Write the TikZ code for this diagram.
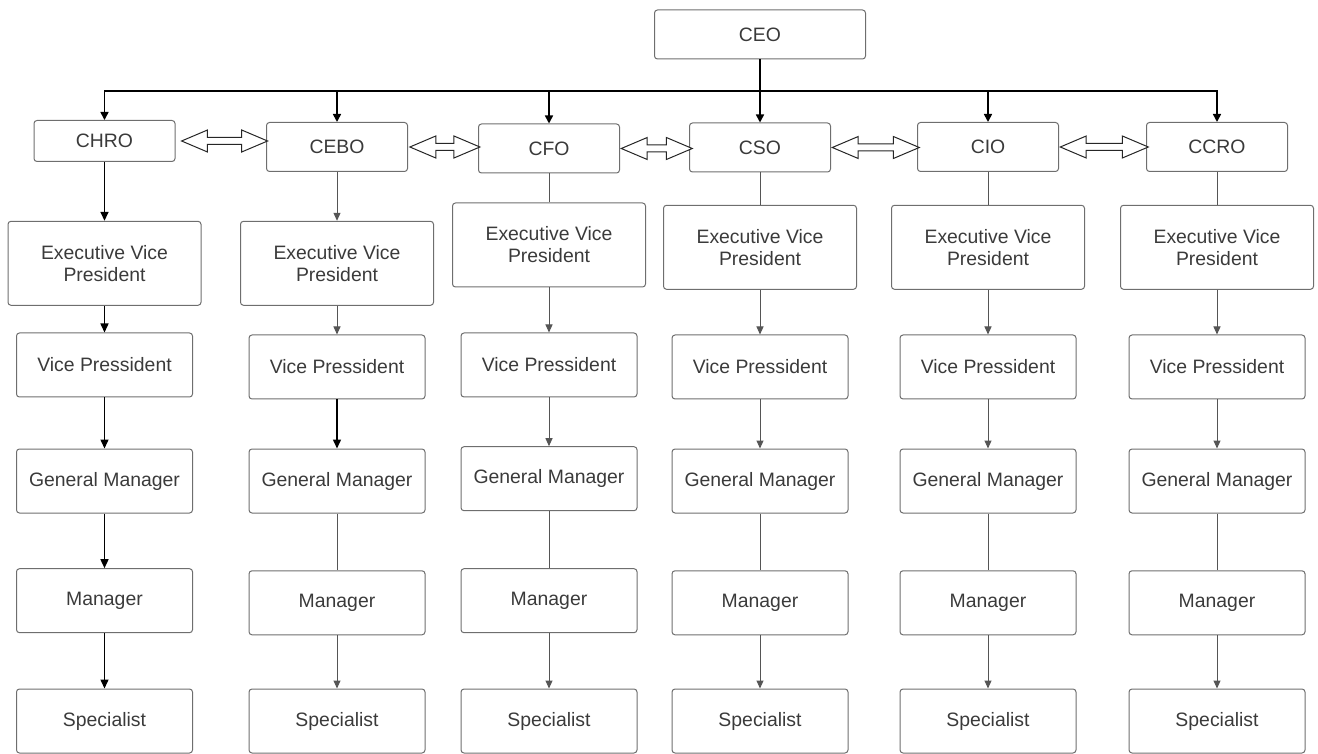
\documentclass[tikz,border=0pt]{standalone}
\usepackage{fontspec}
\setmainfont{Liberation Sans}
\usetikzlibrary{positioning,shapes.arrows,arrows.meta}
\definecolor{boxline}{HTML}{6E6E6E}
\definecolor{boxtext}{HTML}{3A3A3A}
\definecolor{linkgray}{HTML}{555555}
\tikzset{
  orgbox/.style={draw=boxline,line width=0.5pt,rounded corners=1.5pt,text=boxtext,
    font=\fontsize{9.7}{11}\selectfont,align=center,inner sep=0pt},
  chief/.style={orgbox,minimum width=70.5pt,minimum height=24.5pt},
  evpbox/.style={orgbox,minimum width=96.5pt,minimum height=42pt},
  rankbox/.style={orgbox,minimum width=88pt,minimum height=32pt},
  bus/.style={line width=0.8pt,black},
  busarr/.style={bus,-{Triangle[length=4pt,width=4pt]}},
  link/.style={line width=0.5pt,linkgray},
  linkarr/.style={link,-{Triangle[length=4pt,width=3.5pt]}},
  firstarr/.style={line width=0.75pt,black,-{Triangle[length=4.5pt,width=4pt]}},
  peer/.style={double arrow,draw=black!85,line width=0.5pt,fill=white,
    double arrow head extend=3.75pt,double arrow tip angle=46,
    inner xsep=0pt,inner ysep=1.5pt}
}

\begin{document}
\begin{tikzpicture}[x=0.5pt,y=-0.5pt]
\useasboundingbox (0,0) rectangle (1318,754);

\node[chief,minimum width=105.5pt] (CEO) at (760,34.5) {CEO};
\coordinate (bus) at (760,91);

\node[chief,minimum height=20.5pt] (CHRO) at (104.5,141) {CHRO};
\node[chief] (CEBO) at (337,147) {CEBO};
\node[chief] (CFO) at (549,148.5) {CFO};
\node[chief] (CSO) at (760,147.5) {CSO};
\node[chief] (CIO) at (988,147) {CIO};
\node[chief] (CCRO) at (1217,147) {CCRO};

% peer links between the chiefs
\node[peer,minimum height=43pt,right=2.4pt of CHRO] (p1) {};
\node[peer,minimum height=35pt,right=0.3pt of CEBO] (p2) {};
\node[peer,minimum height=35.5pt,right=0pt of CFO] (p3) {};
\node[peer,minimum height=43.5pt,right=0pt of CSO] (p4) {};
\node[peer,minimum height=44pt,right=0pt of CIO] (p5) {};

% CHRO column
\node[evpbox] (hrEVP) at (104.5,263.3) {Executive Vice\\President};
\node[rankbox] (hrVP) at (104.5,365) {Vice Pressident};
\node[rankbox] (hrGM) at (104.5,481) {General Manager};
\node[rankbox] (hrMgr) at (104.5,600.7) {Manager};
\node[rankbox] (hrSpec) at (104.5,721) {Specialist};

% CEBO column
\node[evpbox] (ebEVP) at (337,263.3) {Executive Vice\\President};
\node[rankbox] (ebVP) at (337,367) {Vice Pressident};
\node[rankbox] (ebGM) at (337,481) {General Manager};
\node[rankbox] (ebMgr) at (337,602.8) {Manager};
\node[rankbox] (ebSpec) at (337,721) {Specialist};

% CFO column
\node[evpbox] (foEVP) at (549,245) {Executive Vice\\President};
\node[rankbox] (foVP) at (549,365) {Vice Pressident};
\node[rankbox] (foGM) at (549,478.7) {General Manager};
\node[rankbox] (foMgr) at (549,600.7) {Manager};
\node[rankbox] (foSpec) at (549,721) {Specialist};

% CSO column
\node[evpbox] (soEVP) at (760,247.3) {Executive Vice\\President};
\node[rankbox] (soVP) at (760,367) {Vice Pressident};
\node[rankbox] (soGM) at (760,481) {General Manager};
\node[rankbox] (soMgr) at (760,602.8) {Manager};
\node[rankbox] (soSpec) at (760,721) {Specialist};

% CIO column
\node[evpbox] (ioEVP) at (988,247.3) {Executive Vice\\President};
\node[rankbox] (ioVP) at (988,367) {Vice Pressident};
\node[rankbox] (ioGM) at (988,481) {General Manager};
\node[rankbox] (ioMgr) at (988,602.8) {Manager};
\node[rankbox] (ioSpec) at (988,721) {Specialist};

% CCRO column
\node[evpbox] (crEVP) at (1217,247.3) {Executive Vice\\President};
\node[rankbox] (crVP) at (1217,367) {Vice Pressident};
\node[rankbox] (crGM) at (1217,481) {General Manager};
\node[rankbox] (crMgr) at (1217,602.8) {Manager};
\node[rankbox] (crSpec) at (1217,721) {Specialist};

% CEO to the chiefs
\draw[bus] (CEO) -- (bus);
\draw[busarr] (bus) -| (CHRO);
\draw[busarr] (bus) -| (CEBO);
\draw[busarr] (bus) -| (CFO);
\draw[busarr] (bus) -- (CSO);
\draw[busarr] (bus) -| (CIO);
\draw[busarr] (bus) -| (CCRO);

\draw[firstarr] (CHRO) -- (hrEVP);
\draw[firstarr] (hrEVP) -- (hrVP);
\draw[firstarr] (hrVP) -- (hrGM);
\draw[firstarr] (hrGM) -- (hrMgr);
\draw[firstarr] (hrMgr) -- (hrSpec);

\draw[linkarr] (CEBO) -- (ebEVP);
\draw[linkarr] (ebEVP) -- (ebVP);
\draw[firstarr] (ebVP) -- (ebGM);
\draw[link] (ebGM) -- (ebMgr);
\draw[linkarr] (ebMgr) -- (ebSpec);

\draw[link] (CFO) -- (foEVP);
\draw[linkarr] (foEVP) -- (foVP);
\draw[linkarr] (foVP) -- (foGM);
\draw[link] (foGM) -- (foMgr);
\draw[linkarr] (foMgr) -- (foSpec);

\draw[link] (CSO) -- (soEVP);
\draw[linkarr] (soEVP) -- (soVP);
\draw[linkarr] (soVP) -- (soGM);
\draw[link] (soGM) -- (soMgr);
\draw[linkarr] (soMgr) -- (soSpec);

\draw[link] (CIO) -- (ioEVP);
\draw[linkarr] (ioEVP) -- (ioVP);
\draw[linkarr] (ioVP) -- (ioGM);
\draw[link] (ioGM) -- (ioMgr);
\draw[linkarr] (ioMgr) -- (ioSpec);

\draw[link] (CCRO) -- (crEVP);
\draw[linkarr] (crEVP) -- (crVP);
\draw[linkarr] (crVP) -- (crGM);
\draw[link] (crGM) -- (crMgr);
\draw[linkarr] (crMgr) -- (crSpec);

\end{tikzpicture}
\end{document}
